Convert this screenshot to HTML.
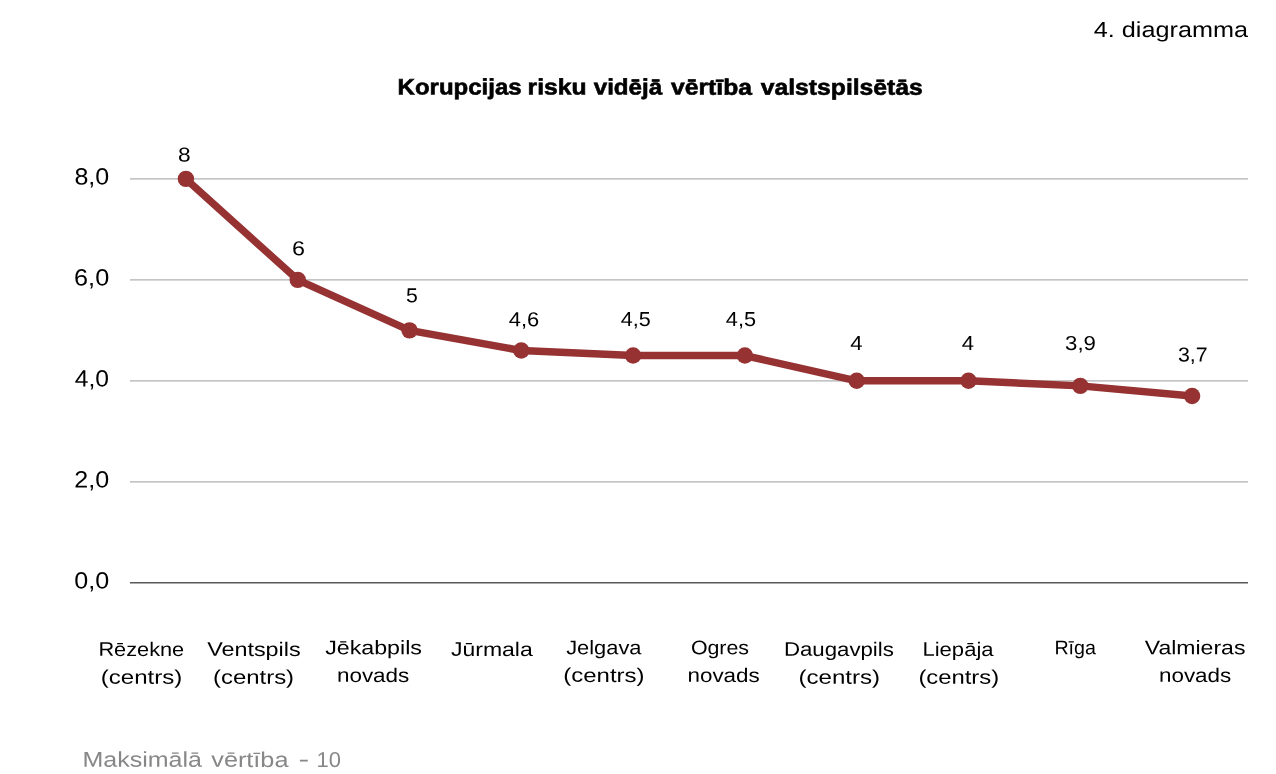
<!DOCTYPE html>
<html lang="lv">
<head>
<meta charset="utf-8">
<title>4. diagramma</title>
<style>
html,body{margin:0;padding:0;background:#fff;width:1276px;height:774px;overflow:hidden}
svg{display:block;font-family:"Liberation Sans",sans-serif;text-rendering:geometricPrecision}
</style>
</head>
<body>
<svg width="1276" height="774" viewBox="0 0 1276 774">
<rect width="1276" height="774" fill="#fff"/>
<g stroke="#b0b0b0" stroke-width="1.25" fill="none">
<line x1="130.0" y1="178.90" x2="1248.0" y2="178.90"/>
<line x1="130.0" y1="279.85" x2="1248.0" y2="279.85"/>
<line x1="130.0" y1="380.80" x2="1248.0" y2="380.80"/>
<line x1="130.0" y1="481.75" x2="1248.0" y2="481.75"/>
</g>
<line x1="130.0" y1="582.70" x2="1248.0" y2="582.70" stroke="#595959" stroke-width="1.5"/>
<polyline points="185.90,178.90 297.70,279.85 409.50,330.33 521.30,350.52 633.10,355.56 744.90,355.56 856.70,380.80 968.50,380.80 1080.30,385.85 1192.10,395.94" fill="none" stroke="#963232" stroke-width="7.4" stroke-linejoin="round" stroke-linecap="round"/>
<g fill="#963232">
<circle cx="185.90" cy="178.90" r="8.2"/>
<circle cx="297.70" cy="279.85" r="8.2"/>
<circle cx="409.50" cy="330.33" r="8.2"/>
<circle cx="521.30" cy="350.52" r="8.2"/>
<circle cx="633.10" cy="355.56" r="8.2"/>
<circle cx="744.90" cy="355.56" r="8.2"/>
<circle cx="856.70" cy="380.80" r="8.2"/>
<circle cx="968.50" cy="380.80" r="8.2"/>
<circle cx="1080.30" cy="385.85" r="8.2"/>
<circle cx="1192.10" cy="395.94" r="8.2"/>
</g>
<g font-size="21.80" font-weight="normal" fill="#000">
<text x="1093.80" y="36.93" transform="rotate(0.03 1170.87 36.93)" textLength="154.16" lengthAdjust="spacingAndGlyphs">4. diagramma</text>
</g>
<g font-size="22.30" font-weight="bold" fill="#000" stroke="#000" stroke-width="0.60">
<text transform="rotate(0.03 639.58 94.60)"><tspan x="397.59" y="94.60" textLength="124.01" lengthAdjust="spacingAndGlyphs">Korupcijas</tspan> <tspan x="527.62" y="94.60" textLength="59.01" lengthAdjust="spacingAndGlyphs">risku</tspan> <tspan x="593.74" y="94.60" textLength="68.35" lengthAdjust="spacingAndGlyphs">vidējā</tspan> <tspan x="671.04" y="94.60" textLength="80.92" lengthAdjust="spacingAndGlyphs">vērtība</tspan> <tspan x="760.74" y="94.60" textLength="162.09" lengthAdjust="spacingAndGlyphs">valstspilsētās</tspan></text>
</g>
<g font-size="23.50" font-weight="normal" fill="#000">
<text x="74.37" y="588.42" transform="rotate(0.03 91.81 588.42)" textLength="34.87" lengthAdjust="spacingAndGlyphs">0,0</text>
<text x="74.34" y="487.47" transform="rotate(0.03 91.76 487.47)" textLength="34.84" lengthAdjust="spacingAndGlyphs">2,0</text>
<text x="74.83" y="386.52" transform="rotate(0.03 91.96 386.52)" textLength="34.24" lengthAdjust="spacingAndGlyphs">4,0</text>
<text x="74.08" y="285.57" transform="rotate(0.03 91.63 285.57)" textLength="35.09" lengthAdjust="spacingAndGlyphs">6,0</text>
<text x="74.44" y="184.62" transform="rotate(0.03 91.81 184.62)" textLength="34.73" lengthAdjust="spacingAndGlyphs">8,0</text>
</g>
<g font-size="20.20" font-weight="normal" fill="#000">
<text x="178.10" y="161.60" transform="rotate(0.03 184.41 161.60)" textLength="12.63" lengthAdjust="spacingAndGlyphs">8</text>
<text x="292.05" y="255.20" transform="rotate(0.03 298.53 255.20)" textLength="12.98" lengthAdjust="spacingAndGlyphs">6</text>
<text x="405.93" y="302.30" transform="rotate(0.03 411.84 302.30)" textLength="11.83" lengthAdjust="spacingAndGlyphs">5</text>
<text x="508.74" y="326.30" transform="rotate(0.03 523.96 326.30)" textLength="30.44" lengthAdjust="spacingAndGlyphs">4,6</text>
<text x="620.87" y="326.10" transform="rotate(0.03 635.87 326.10)" textLength="30.01" lengthAdjust="spacingAndGlyphs">4,5</text>
<text x="725.84" y="326.10" transform="rotate(0.03 740.95 326.10)" textLength="30.22" lengthAdjust="spacingAndGlyphs">4,5</text>
<text x="850.34" y="349.90" transform="rotate(0.03 856.49 349.90)" textLength="12.31" lengthAdjust="spacingAndGlyphs">4</text>
<text x="961.79" y="349.90" transform="rotate(0.03 967.93 349.90)" textLength="12.27" lengthAdjust="spacingAndGlyphs">4</text>
<text x="1065.05" y="350.10" transform="rotate(0.03 1080.49 350.10)" textLength="30.88" lengthAdjust="spacingAndGlyphs">3,9</text>
<text x="1178.01" y="361.60" transform="rotate(0.03 1192.85 361.60)" textLength="29.67" lengthAdjust="spacingAndGlyphs">3,7</text>
</g>
<g font-size="19.60" font-weight="normal" fill="#000">
<text transform="rotate(0.03 141.41 669.80)"><tspan x="98.42" y="655.90" textLength="85.79" lengthAdjust="spacingAndGlyphs">Rēzekne</tspan> <tspan x="100.78" y="683.70" textLength="81.46" lengthAdjust="spacingAndGlyphs">(centrs)</tspan></text>
<text transform="rotate(0.03 253.71 669.80)"><tspan x="207.16" y="655.90" textLength="93.43" lengthAdjust="spacingAndGlyphs">Ventspils</tspan> <tspan x="213.02" y="683.70" textLength="81.06" lengthAdjust="spacingAndGlyphs">(centrs)</tspan></text>
<text transform="rotate(0.03 373.35 668.05)"><tspan x="325.13" y="654.20" textLength="96.83" lengthAdjust="spacingAndGlyphs">Jēkabpils</tspan> <tspan x="336.95" y="681.90" textLength="72.39" lengthAdjust="spacingAndGlyphs">novads</tspan></text>
<text x="450.97" y="655.90" transform="rotate(0.03 491.86 655.90)" textLength="81.79" lengthAdjust="spacingAndGlyphs">Jūrmala</text>
<text transform="rotate(0.03 603.87 668.05)"><tspan x="566.16" y="654.20" textLength="75.32" lengthAdjust="spacingAndGlyphs">Jelgava</tspan> <tspan x="563.30" y="681.90" textLength="81.23" lengthAdjust="spacingAndGlyphs">(centrs)</tspan></text>
<text transform="rotate(0.03 721.78 668.05)"><tspan x="690.89" y="654.20" textLength="58.16" lengthAdjust="spacingAndGlyphs">Ogres</tspan> <tspan x="687.48" y="681.90" textLength="72.24" lengthAdjust="spacingAndGlyphs">novads</tspan></text>
<text transform="rotate(0.03 839.08 669.80)"><tspan x="783.90" y="655.90" textLength="109.97" lengthAdjust="spacingAndGlyphs">Daugavpils</tspan> <tspan x="798.49" y="683.70" textLength="81.58" lengthAdjust="spacingAndGlyphs">(centrs)</tspan></text>
<text transform="rotate(0.03 958.40 669.80)"><tspan x="922.44" y="655.90" textLength="71.13" lengthAdjust="spacingAndGlyphs">Liepāja</tspan> <tspan x="918.40" y="683.70" textLength="80.79" lengthAdjust="spacingAndGlyphs">(centrs)</tspan></text>
<text x="1054.40" y="654.20" transform="rotate(0.03 1075.15 654.20)" textLength="41.50" lengthAdjust="spacingAndGlyphs">Rīga</text>
<text transform="rotate(0.03 1195.08 668.05)"><tspan x="1144.72" y="654.20" textLength="100.67" lengthAdjust="spacingAndGlyphs">Valmieras</tspan> <tspan x="1158.97" y="681.90" textLength="72.25" lengthAdjust="spacingAndGlyphs">novads</tspan></text>
</g>
<g font-size="21.40" font-weight="normal" fill="#878787">
<text transform="rotate(0.03 256.19 766.75)"><tspan x="82.43" y="766.90" textLength="119.53" lengthAdjust="spacingAndGlyphs">Maksimālā</tspan> <tspan x="211.26" y="766.90" textLength="77.22" lengthAdjust="spacingAndGlyphs">vērtība</tspan> <tspan x="298.56" y="766.30" textLength="10.65" lengthAdjust="spacingAndGlyphs">-</tspan> <tspan x="316.59" y="766.90" textLength="24.42" lengthAdjust="spacingAndGlyphs">10</tspan></text>
</g>
</svg>
</body>
</html>
